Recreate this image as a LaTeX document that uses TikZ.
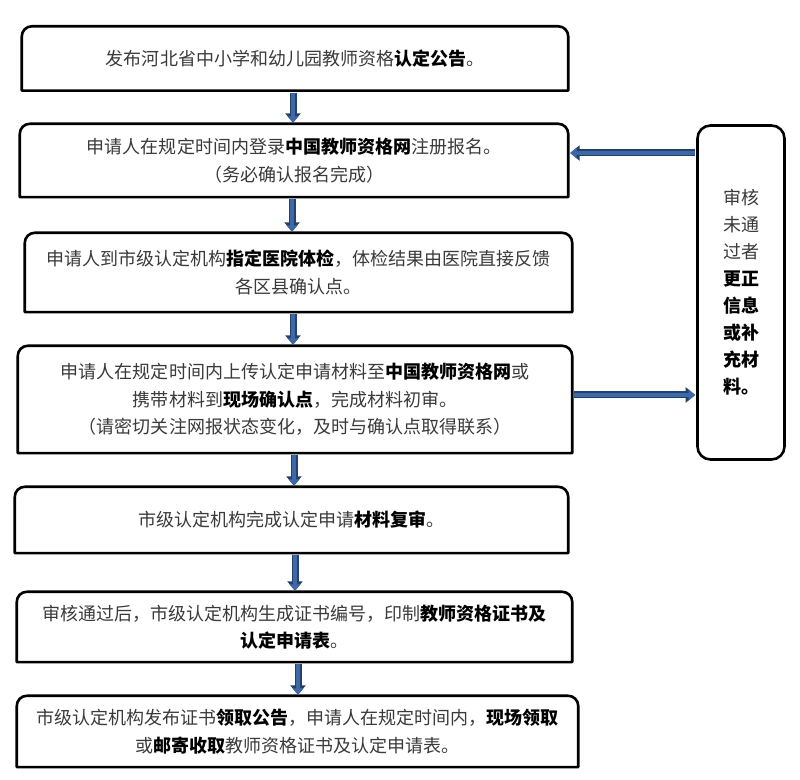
\documentclass[tikz,border=0pt]{standalone}
\usepackage{fontspec}
\setmainfont{Noto Sans CJK SC}
\usetikzlibrary{arrows.meta}
\definecolor{arrfill}{HTML}{3F69A6}
\definecolor{arrdark}{HTML}{24406C}
\definecolor{txtgray}{HTML}{3A3A3A}
\newcommand\bd[1]{\textbf{\color{black}#1}}
\newcommand\topround[1]{\draw[boxline] (#1.south west) -- ([yshift=-10bp]#1.north west) arc[start angle=180,end angle=90,radius=10bp] -- ([xshift=-10bp]#1.north east) arc[start angle=90,end angle=0,radius=10bp] -- (#1.south east) -- cycle;}
\tikzset{
  stepbox/.style={rectangle, inner sep=0pt, align=center, text=txtgray,
    font=\fontsize{18bp}{27.5bp}\selectfont},
  boxline/.style={draw=black, line width=2.6bp, line join=round},
  sidebox/.style={rectangle, rounded corners=13bp, draw=black, line width=2.6bp,
    inner sep=0pt, align=center, text=txtgray, font=\fontsize{18bp}{27bp}\selectfont},
  barrow/.style={draw=arrfill, line width=3.6bp, -{Triangle[width=10.5bp,length=6.5bp]},
    preaction={draw=arrdark, line width=7bp, -{Triangle[width=15bp,length=9.5bp]}}}
}
\begin{document}
\begin{tikzpicture}[x=1bp,y=1bp]
\useasboundingbox (0,0) rectangle (800,780);
\fill[white] (0,0) rectangle (800,780);
% boxes
\node[stepbox, minimum width=546bp, minimum height=64bp] (b1) at (295,721.5)
  {发布河北省中小学和幼儿园教师资格\bd{认定公告}。};
\node[stepbox, minimum width=548bp, minimum height=73bp] (b2) at (294,619.5)
  {申请人在规定时间内登录\bd{中国教师资格网}注册报名。\\（务必确认报名完成）};
\node[stepbox, minimum width=547bp, minimum height=79bp] (b3) at (298.5,507.5)
  {申请人到市级认定机构\bd{指定医院体检}，体检结果由医院直接反馈\\各区县确认点。};
\node[stepbox, minimum width=554bp, minimum height=107bp] (b4) at (295,380.5)
  {申请人在规定时间内上传认定申请材料至\bd{中国教师资格网}或\\携带材料到\bd{现场确认点}，完成材料初审。\\（请密切关注网报状态变化，及时与确认点取得联系）};
\node[stepbox, minimum width=553bp, minimum height=66bp] (b5) at (291.5,260)
  {市级认定机构完成认定申请\bd{材料复审}。};
\node[stepbox, minimum width=555bp, minimum height=70bp] (b6) at (294.5,153)
  {审核通过后，市级认定机构生成证书编号，印制\bd{教师资格证书及}\\\bd{认定申请表}。};
\node[stepbox, minimum width=561bp, minimum height=71bp] (b7) at (297.5,48.5)
  {市级认定机构发布证书\bd{领取公告}，申请人在规定时间内，\bd{现场领取}\\或\bd{邮寄收取}教师资格证书及认定申请表。};
\foreach \b in {b1,b2,b3,b4,b5,b6,b7}{\topround{\b}}
\node[sidebox, minimum width=87bp, minimum height=334bp] (side) at (741,487.5)
  {审核\\未通\\过者\\\bd{更正}\\\bd{信息}\\\bd{或补}\\\bd{充材}\\\bd{料。}};
% arrows
\coordinate (x1) at (293,0);
\coordinate (x2) at (292,0);
\coordinate (x3) at (293,0);
\coordinate (x4) at (294,0);
\coordinate (x5) at (295,0);
\coordinate (x6) at (298,0);
\coordinate (y1) at (0,627);
\coordinate (y2) at (0,385);
\draw[barrow] ([yshift=-2bp]b1.south -| x1) -- ([yshift=1bp]b2.north -| x1);
\draw[barrow] ([yshift=-2bp]b2.south -| x2) -- ([yshift=1bp]b3.north -| x2);
\draw[barrow] ([yshift=-2bp]b3.south -| x3) -- ([yshift=1bp]b4.north -| x3);
\draw[barrow] ([yshift=-2bp]b4.south -| x4) -- ([yshift=1bp]b5.north -| x4);
\draw[barrow] ([yshift=-2bp]b5.south -| x5) -- ([yshift=1bp]b6.north -| x5);
\draw[barrow] ([yshift=-2bp]b6.south -| x6) -- ([yshift=1bp]b7.north -| x6);
\draw[barrow] ([xshift=-1bp]side.west |- y1) -- ([xshift=2bp]b2.east |- y1);
\draw[barrow] ([xshift=2bp]b4.east |- y2) -- ([xshift=-1bp]side.west |- y2);
\end{tikzpicture}
\end{document}
